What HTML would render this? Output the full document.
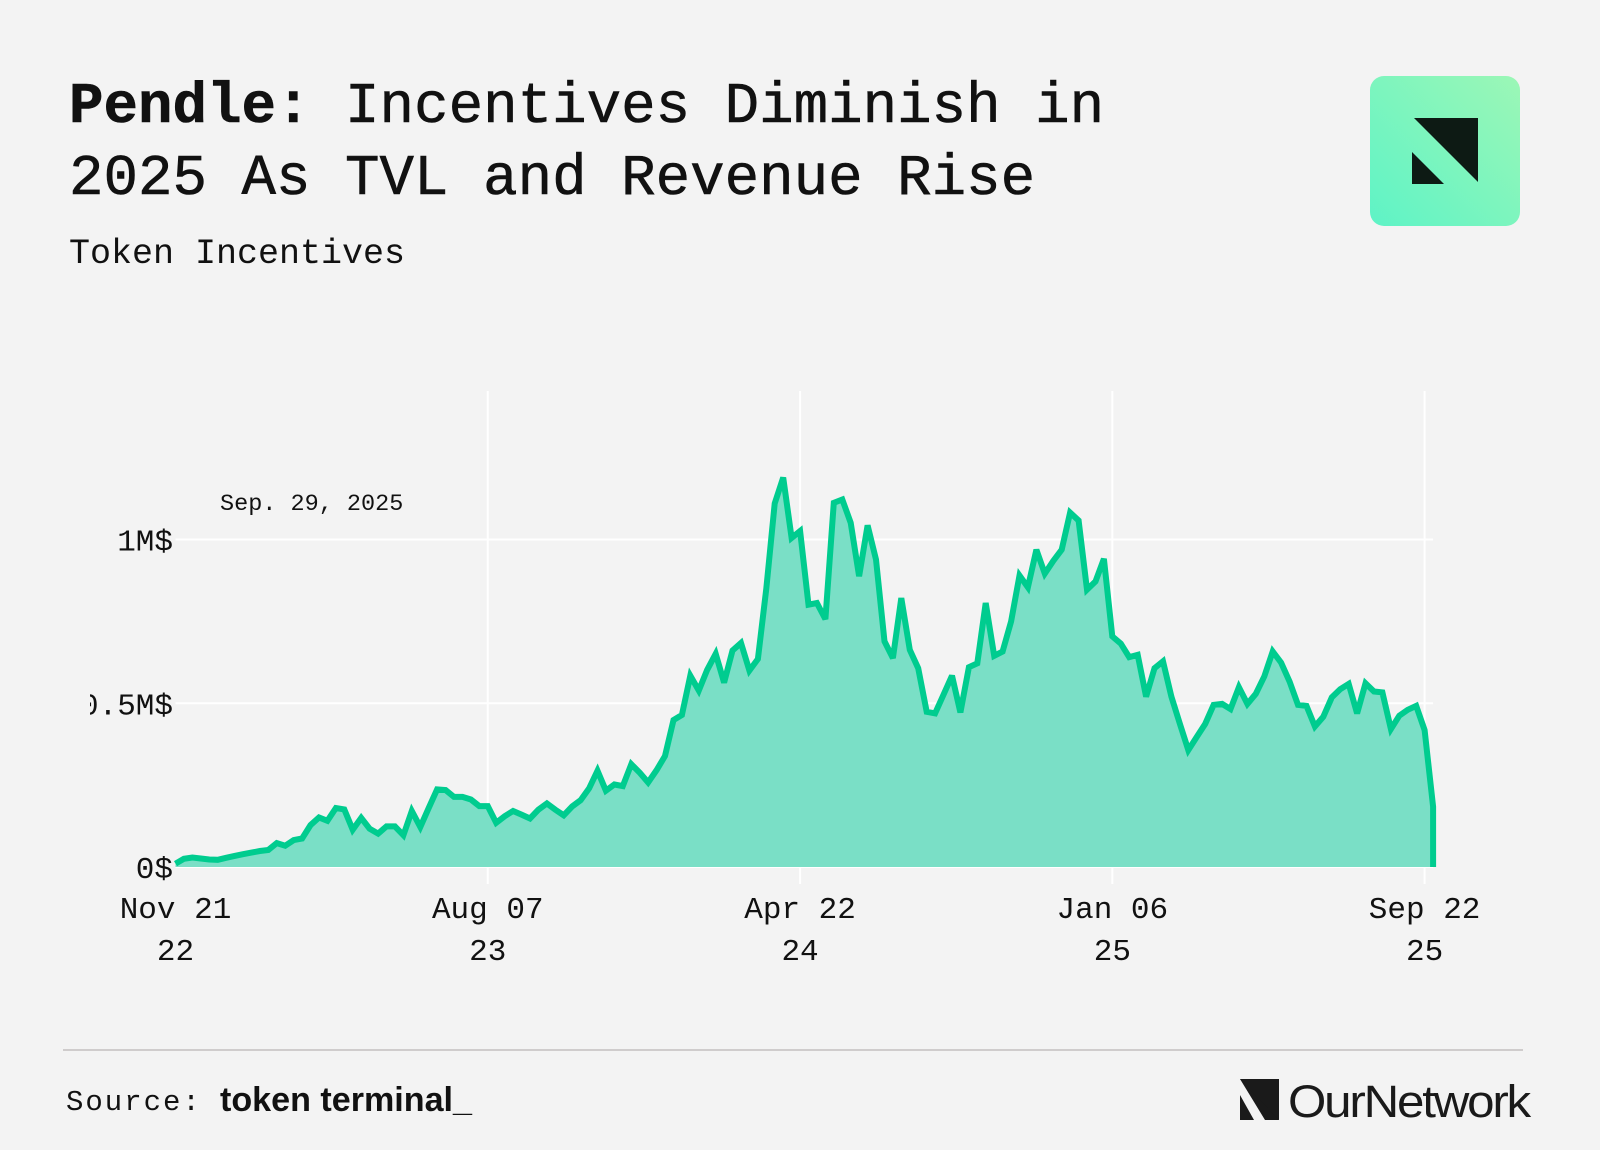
<!DOCTYPE html>
<html><head><meta charset="utf-8"><style>
html,body{margin:0;padding:0;background:#f3f3f3;}
svg{display:block;}
.mono{font-family:"Liberation Mono","DejaVu Sans Mono",monospace;}
.sans{font-family:"Liberation Sans","DejaVu Sans",sans-serif;}
</style></head><body>
<svg id="root" width="1600" height="1150" viewBox="0 0 1600 1150" xmlns="http://www.w3.org/2000/svg">
<rect x="0" y="0" width="1600" height="1150" fill="#f3f3f3"/>
<text class="mono" x="69" y="122" font-size="57.5" fill="#111" stroke="#111" stroke-width="0.6"><tspan font-weight="bold">Pendle:</tspan> Incentives Diminish in</text>
<text class="mono" x="69" y="194" font-size="57.5" fill="#111" stroke="#111" stroke-width="0.6">2025 As TVL and Revenue Rise</text>
<text class="mono" x="69" y="263" font-size="35" fill="#111">Token Incentives</text>
<defs>
<linearGradient id="lg" x1="1" y1="0" x2="0" y2="1">
<stop offset="0" stop-color="#9cf7b6"/><stop offset="1" stop-color="#5ef3c6"/>
</linearGradient>
<clipPath id="yclip"><rect x="90" y="391" width="1400" height="520"/></clipPath>
</defs>
<g>
<rect x="1370" y="76" width="150" height="150" rx="14" fill="url(#lg)"/>
<polygon points="1414,118 1478,118 1478,182" fill="#0d1a14"/>
<polygon points="1412,152 1412,184 1444,184" fill="#0d1a14"/>
</g>
<g id="plot"></g>
<text class="mono" x="220" y="510" font-size="23.5" fill="#111">Sep. 29, 2025</text>
<line x1="63" y1="1050" x2="1523" y2="1050" stroke="#cfcccc" stroke-width="2"/>
<text class="mono" x="66" y="1110" font-size="29" fill="#111" letter-spacing="2">Source:</text>
<text class="sans" x="220" y="1111" font-size="34" font-weight="bold" fill="#111" textLength="252" lengthAdjust="spacingAndGlyphs">token terminal_</text>
<g>
<polygon points="1240,1079 1254,1079 1279,1120 1265,1120" fill="#1a1a1a"/>
<polygon points="1240,1079 1279,1079 1279,1120" fill="#1a1a1a"/>
<polygon points="1240,1095 1240,1120 1254,1120" fill="#1a1a1a"/>
<text class="sans" x="1288" y="1117" font-size="45" fill="#1a1a1a" letter-spacing="-2" textLength="241" lengthAdjust="spacingAndGlyphs">OurNetwork</text>
</g>
</svg>
<script>
const values = [0.010,0.025,0.029,0.026,0.023,0.022,0.028,0.034,0.039,0.044,0.049,0.052,0.073,0.065,0.082,0.087,0.128,0.151,0.141,0.180,0.176,0.114,0.150,0.117,0.102,0.124,0.124,0.097,0.171,0.122,0.180,0.237,0.235,0.214,0.214,0.206,0.186,0.186,0.135,0.155,0.171,0.160,0.148,0.175,0.194,0.175,0.158,0.185,0.204,0.240,0.294,0.233,0.252,0.247,0.314,0.288,0.258,0.296,0.339,0.449,0.464,0.584,0.539,0.602,0.651,0.563,0.661,0.684,0.600,0.635,0.850,1.110,1.189,1.005,1.026,0.801,0.806,0.757,1.112,1.122,1.051,0.888,1.043,0.939,0.689,0.638,0.821,0.663,0.607,0.474,0.469,0.526,0.584,0.472,0.610,0.622,0.806,0.645,0.658,0.750,0.890,0.854,0.969,0.896,0.935,0.969,1.082,1.058,0.847,0.872,0.941,0.704,0.682,0.641,0.648,0.520,0.607,0.628,0.520,0.437,0.357,0.397,0.437,0.495,0.498,0.482,0.549,0.498,0.529,0.582,0.658,0.624,0.566,0.495,0.492,0.429,0.459,0.518,0.543,0.559,0.469,0.561,0.536,0.533,0.421,0.462,0.480,0.492,0.418,0.184];
const xTickIdx = [0,37,74,111,148];
const xTickTop = ["Nov 21","Aug 07","Apr 22","Jan 06","Sep 22"];
const xTickBottom = ["22","23","24","25","25"];
const yTicks = [0,0.5,1,1.5];
const yTickLabels = ["0$","0.5M$","1M$","1.5M$"];

const NS="http://www.w3.org/2000/svg";
const X0=175.5, STEP=8.44, Y0=867, YPX=327.5;
const sx=i=>X0+i*STEP;
const sy=v=>Y0-v*YPX;
const plot=document.getElementById('plot');
function mk(tag,attrs){const e=document.createElementNS(NS,tag);for(const k in attrs)e.setAttribute(k,attrs[k]);return e;}
const right=sx(values.length-1);
xTickIdx.forEach((t,i)=>{
  if(i===0) return;
  const l=mk('line',{x1:sx(t),x2:sx(t),y1:391,y2:884,stroke:'#ffffff','stroke-width':2});
  
  
  plot.appendChild(l);
});
yTicks.forEach((v,i)=>{
  if(sy(v)<391) return;
  const l=mk('line',{x1:X0,x2:right,y1:sy(v),y2:sy(v),stroke:'#ffffff','stroke-width':2});
  
  
  plot.appendChild(l);
});
let d='M'+sx(0)+','+sy(0);
values.forEach((v,i)=>{d+=' L'+sx(i).toFixed(1)+','+sy(v).toFixed(1);});
d+=' L'+right.toFixed(1)+','+sy(0)+' Z';
const area=mk('path',{d:d,fill:'#7adfc6'});


plot.appendChild(area);
let ld='';
values.forEach((v,i)=>{ld+=(i?' L':'M')+sx(i).toFixed(1)+','+sy(v).toFixed(1);});
ld+=' L'+right.toFixed(1)+','+sy(0);
const line=mk('path',{d:ld,fill:'none',stroke:'#00cc8f','stroke-width':6,'stroke-linejoin':'miter','stroke-miterlimit':3});


plot.appendChild(line);
const yg=mk('g',{'clip-path':'url(#yclip)'});


yTicks.forEach((v,i)=>{
  const t=mk('text',{x:173,y:sy(v)+11,'text-anchor':'end','font-size':31,fill:'#111',class:'mono'});
  t.textContent=yTickLabels[i];
  
  
  yg.appendChild(t);
});
plot.appendChild(yg);
xTickIdx.forEach((t,i)=>{
  const a=mk('text',{x:sx(t),y:918,'text-anchor':'middle','font-size':31,fill:'#111',class:'mono'});
  a.textContent=xTickTop[i];
  
  
  plot.appendChild(a);
  const b=mk('text',{x:sx(t),y:960,'text-anchor':'middle','font-size':31,fill:'#111',class:'mono'});
  b.textContent=xTickBottom[i];
  
  
  plot.appendChild(b);
});
</script>
</body></html>
